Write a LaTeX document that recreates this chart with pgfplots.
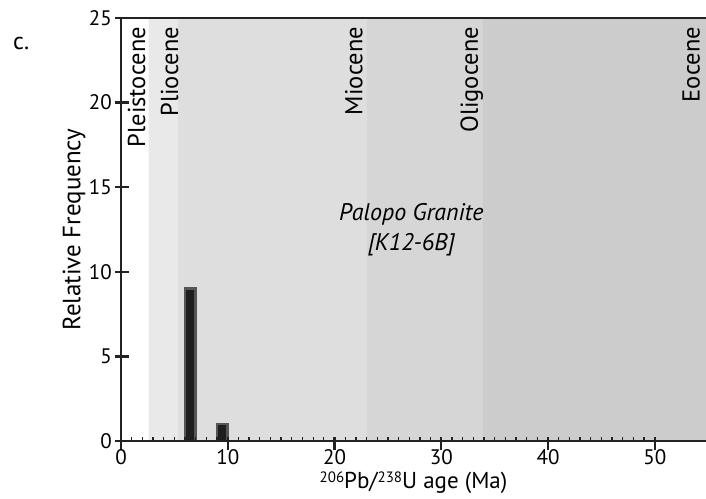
\documentclass[border=0pt]{standalone}
\usepackage{pgfplots}
\pgfplotsset{compat=1.18}
\usepackage{fontspec}
\setmainfont{PT Sans}

\definecolor{axisdark}{HTML}{222222}
\definecolor{plio}{HTML}{E9E9E9}
\definecolor{mio}{HTML}{DEDEDE}
\definecolor{oligo}{HTML}{D6D6D6}
\definecolor{eo}{HTML}{CCCCCC}
\definecolor{barfill}{HTML}{1E1E1E}
\definecolor{baredge}{HTML}{555555}

\tikzset{epoch/.style={rotate=90, anchor=base east, inner sep=0pt,
    font=\fontsize{24.5}{28}\selectfont}}
\newcommand{\iso}[1]{\raisebox{0.55ex}{\fontsize{15}{16}\selectfont #1}}

\begin{document}
\begin{tikzpicture}
\begin{axis}[
  scale only axis,
  width=585pt, height=423pt,
  xmin=0, xmax=54.8, ymin=0, ymax=25,
  axis x line=box, axis y line=left,
  axis line style={-, line width=2.8pt, color=axisdark},
  axis on top,
  xtick={0,10,...,50}, ytick={0,5,...,25},
  minor x tick num=9,
  xtick pos=left, ytick pos=left,
  tick align=inside,
  major tick length=13pt, minor tick length=4pt,
  major tick style={line width=2.4pt, color=axisdark},
  minor tick style={line width=1.3pt, color=axisdark},
  major x tick style={yshift=-9pt},
  major y tick style={xshift=-5.5pt},
  /pgf/number format/assume math mode=true,
  tick label style={font=\fontsize{21}{24}\selectfont},
  xticklabel style={anchor=base, inner sep=0pt, yshift=-24pt},
  yticklabel style={anchor=east, inner sep=0pt, xshift=-9pt},
  xlabel={\iso{206}Pb/\iso{238}U age (Ma)},
  ylabel={Relative Frequency},
  xlabel style={font=\fontsize{23}{28}\selectfont, inner sep=0pt,
    at={(axis description cs:0.5,0)}, anchor=base, yshift=-48pt},
  ylabel style={font=\fontsize{25}{30}\selectfont,
    at={(axis description cs:-0.0803,0.5)}, anchor=center},
  clip=true,
]
% epoch bands (Ma)
\addplot[draw=none, fill=plio]  coordinates {(2.58,0) (2.58,25) (5.33,25) (5.33,0)} \closedcycle;
\addplot[draw=none, fill=mio]   coordinates {(5.33,0) (5.33,25) (23.03,25) (23.03,0)} \closedcycle;
\addplot[draw=none, fill=oligo] coordinates {(23.03,0) (23.03,25) (33.9,25) (33.9,0)} \closedcycle;
\addplot[draw=none, fill=eo]    coordinates {(33.9,0) (33.9,25) (56,25) (56,0)} \closedcycle;

% age histogram, 1 Ma bins
\addplot[ybar, bar width=1, bar shift=0pt, fill=barfill, draw=baredge, line width=2.7pt]
  coordinates {(6.5,9) (9.5,1)};

\node[epoch] at (axis cs:2.25,24.47)  {Pleistocene};
\node[epoch] at (axis cs:5.34,24.47)  {Pliocene};
\node[epoch] at (axis cs:22.6,24.47)  {Miocene};
\node[epoch] at (axis cs:33.43,24.47) {Oligocene};
\node[epoch] at (axis cs:54.2,24.47)  {Eocene};

\node[align=center, font=\fontsize{24}{30}\selectfont\itshape]
  at (axis cs:27.2,12.5) {Palopo Granite\\{}[K12-6B]};
\end{axis}

\node[anchor=base west, inner sep=0pt, font=\fontsize{24}{28}\selectfont,
      xshift=-108pt, yshift=-32pt] at (current axis.north west) {c.};

\pgfresetboundingbox
\path[use as bounding box] ([xshift=-121pt,yshift=-58pt]current axis.south west)
  rectangle ([yshift=18pt]current axis.north east);
\end{tikzpicture}
\end{document}
